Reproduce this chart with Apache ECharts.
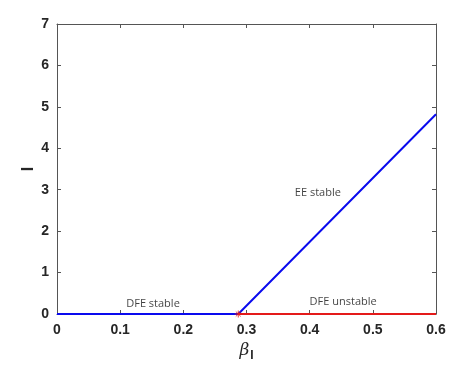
<!DOCTYPE html>
<html>
<head>
<meta charset="utf-8">
<script src="https://cdn.jsdelivr.net/npm/echarts@6/dist/echarts.min.js"></script>
<style>
html, body { margin: 0; padding: 0; background: #fff; }
#main { width: 469px; height: 379px; }
</style>
</head>
<body>
<div id="main"></div>
<script>
// 分岔点和曲线数据
var betaStar = 0.287;
var eeLine = [[0, 0], [betaStar, 0], [0.6, 4.82]];       // 蓝线
var dfeUnstable = [[betaStar, 0], [0.6, 0]];              // 红线
var xTicks = [0, 0.1, 0.2, 0.3, 0.4, 0.5, 0.6];
var yTicks = [0, 1, 2, 3, 4, 5, 6, 7];
// 文字标注 [x, y, 文本]
var notes = [
  [0.152, 0.24, 'DFE stable'],
  [0.453, 0.29, 'DFE unstable'],
  [0.413, 2.92, 'EE stable']
];

var chart = echarts.init(document.getElementById('main'));

var axisLine = { show: true, onZero: false, lineStyle: { color: '#555', width: 1 } };
var tickStyle = { inside: true, length: 4, lineStyle: { color: '#555' } };
var tickFont = { color: '#262626', fontSize: 14, fontWeight: 'bold', fontFamily: 'Liberation Sans, Arial, sans-serif' };

var option = {
  animation: false,
  grid: { left: 57, right: 33, top: 24, bottom: 65 },
  xAxis: [
    {
      type: 'value', min: 0, max: 0.6, interval: 0.1,
      axisLine: axisLine,
      axisTick: tickStyle,
      splitLine: { show: false },
      axisLabel: Object.assign({ margin: 9, formatter: function (v) { return String(+v.toFixed(1)); } }, tickFont),
      name: '{b|β}{s|I}',
      nameLocation: 'middle',
      nameGap: 25,
      nameTextStyle: {
        rich: {
          b: { fontSize: 17, fontStyle: 'italic', color: '#262626', fontFamily: 'DejaVu Serif, serif' },
          s: { fontSize: 12, fontWeight: 'bold', color: '#262626', padding: [10, 0, 0, 1], fontFamily: 'Liberation Sans, Arial, sans-serif' }
        }
      }
    },
    {
      type: 'value', position: 'top', min: 0, max: 0.6, interval: 0.1,
      axisLine: axisLine,
      axisTick: tickStyle,
      axisLabel: { show: false },
      splitLine: { show: false }
    }
  ],
  yAxis: [
    {
      type: 'value', min: 0, max: 7, interval: 1,
      axisLine: axisLine,
      axisTick: tickStyle,
      splitLine: { show: false },
      axisLabel: Object.assign({ margin: 8 }, tickFont),
      name: 'I',
      nameLocation: 'middle',
      nameRotate: 90,
      nameGap: 20,
      nameMoveOverlap: false,
      nameTextStyle: { fontSize: 16, fontWeight: 'bold', color: '#262626', fontFamily: 'Liberation Sans, Arial, sans-serif' }
    },
    {
      type: 'value', position: 'right', min: 0, max: 7, interval: 1,
      axisLine: axisLine,
      axisTick: tickStyle,
      axisLabel: { show: false },
      splitLine: { show: false }
    }
  ],
  series: [
    {
      name: 'EE', type: 'line', data: eeLine,
      symbol: 'none', lineStyle: { color: '#0a0aee', width: 2 }
    },
    {
      name: 'DFE unstable', type: 'line', data: dfeUnstable,
      symbol: 'none', lineStyle: { color: '#e41a1a', width: 2 }
    },
    {
      name: 'point', type: 'scatter', data: [[betaStar, 0]],
      symbol: 'path://M0,-5L0,5M-5,0L5,0M-3.5,-3.5L3.5,3.5M-3.5,3.5L3.5,-3.5',
      symbolSize: 7,
      itemStyle: { color: 'none', borderColor: '#e41a1a', borderWidth: 1 },
      z: 5
    },
    {
      name: 'notes', type: 'scatter', symbolSize: 0,
      data: notes.map(function (n) { return { value: [n[0], n[1]], name: n[2] }; }),
      label: {
        show: true, position: 'inside',
        formatter: function (p) { return p.name; },
        color: '#111', fontSize: 11, fontFamily: 'Open Sans, Noto Sans, sans-serif'
      },
      silent: true
    }
  ]
};

chart.setOption(option);
</script>
</body>
</html>
